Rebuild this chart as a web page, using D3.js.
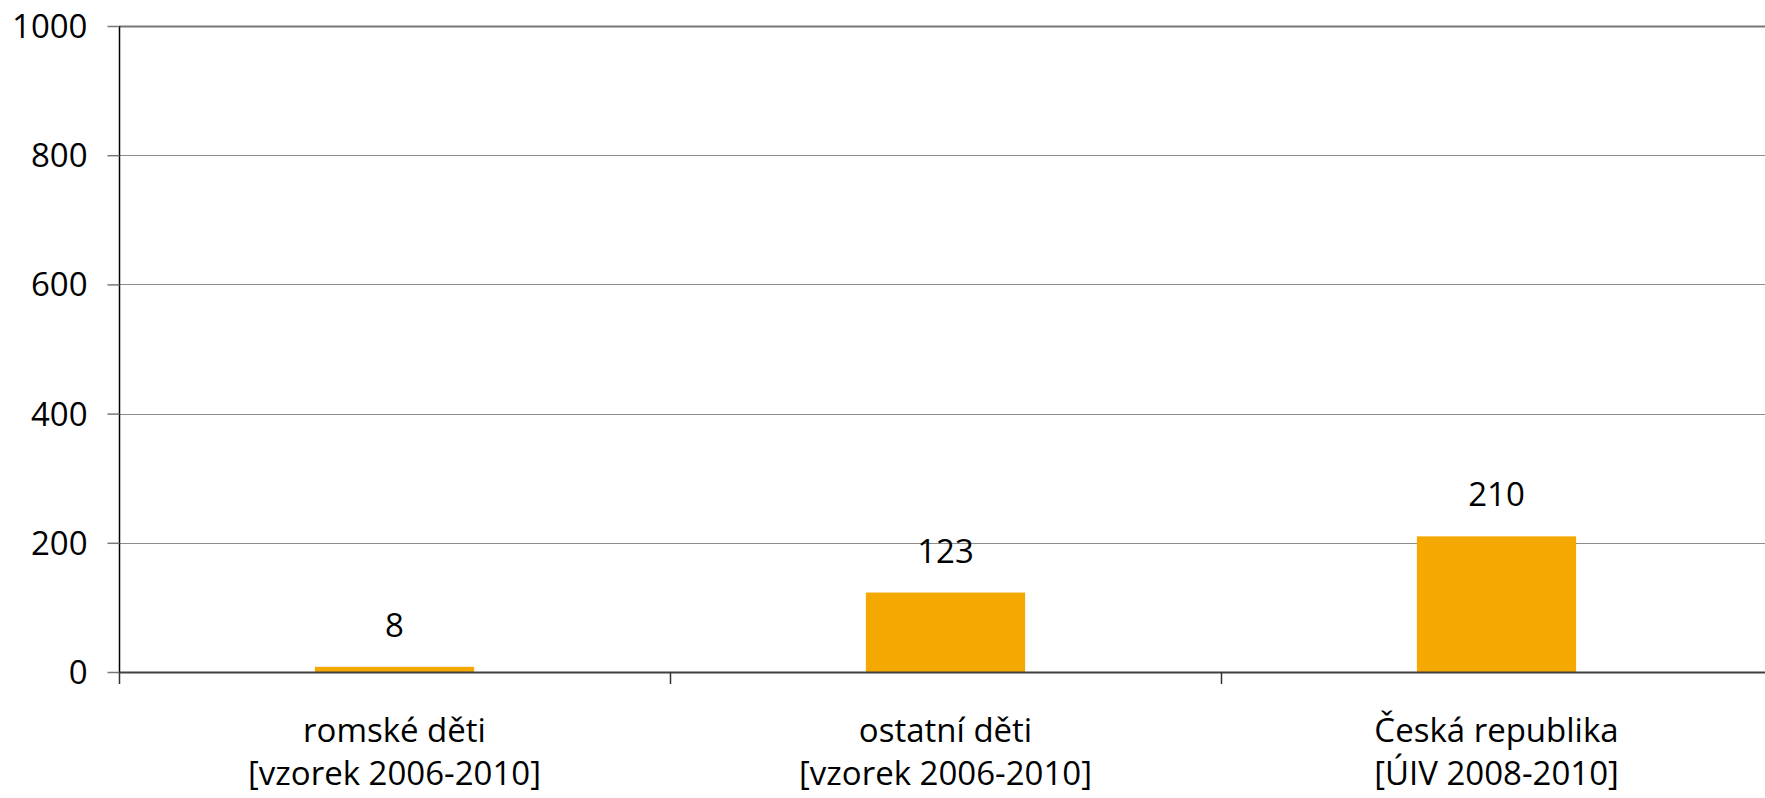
<!DOCTYPE html>
<html>
<head>
<meta charset="utf-8">
<script src="https://cdn.jsdelivr.net/npm/d3@7"></script>
<style>
  html, body { margin: 0; padding: 0; background: #fff; overflow: hidden; }
  text { font-family: "Open Sans", "Noto Sans", sans-serif; fill: #000; }
</style>
</head>
<body>
<svg id="chart" width="1765" height="798"></svg>
<script>
const categories = ["romské děti|[vzorek 2006-2010]", "ostatní děti|[vzorek 2006-2010]", "Česká republika|[ÚIV 2008-2010]"];
const values = [8, 123, 210];
const yTicks = [0, 200, 400, 600, 800, 1000];

const svg = d3.select("#chart");
const mLeft = 119, mRight = 1772, mTop = 26, mBottom = 672;

const x = d3.scaleBand().domain(categories).range([mLeft, mRight]).paddingInner(0).paddingOuter(0);
const y = d3.scaleLinear().domain([0, 1000]).range([mBottom, mTop]);
const barW = x.bandwidth() * 0.289;

// gridlines
svg.append("g").selectAll("line").data(yTicks.filter(d => d > 0)).join("line")
  .attr("x1", mLeft).attr("x2", mRight)
  .attr("y1", d => Math.round(y(d)) + 0.5).attr("y2", d => Math.round(y(d)) + 0.5)
  .attr("stroke", d => d === 1000 ? "#777" : "#8c8c8c").attr("stroke-width", d => d === 1000 ? 2 : 1);

// y axis
const yAxis = d3.axisLeft(y).tickValues(yTicks).tickSize(12).tickPadding(20).tickFormat(d3.format("d"));
const gy = svg.append("g").attr("transform", `translate(${mLeft + 0.5},0)`).call(yAxis);
gy.select(".domain").attr("stroke", "#000").attr("stroke-width", 1.5).attr("d", `M0,${mTop}V${mBottom}`);
gy.selectAll(".tick line").attr("stroke", "#777").attr("stroke-width", 1.5);
gy.selectAll(".tick text").style("font-size", "33px").attr("font-family", null).attr("dy", "0.35em");

// bars
svg.append("g").selectAll("rect").data(values).join("rect")
  .attr("x", (d, i) => x(categories[i]) + (x.bandwidth() - barW) / 2)
  .attr("width", barW)
  .attr("y", d => y(d))
  .attr("height", d => y(0) - y(d))
  .attr("fill", "#f5a800");

// value labels
svg.append("g").selectAll("text").data(values).join("text")
  .attr("x", (d, i) => x(categories[i]) + x.bandwidth() / 2)
  .attr("y", d => y(d) - 30)
  .attr("text-anchor", "middle")
  .style("font-size", "33px")
  .text(d => d);

// x axis
const xAxis = d3.axisBottom(x).tickSize(0).tickFormat("");
const gx = svg.append("g").attr("transform", `translate(0,${mBottom})`).call(xAxis);
gx.select(".domain").attr("stroke", "#404040").attr("stroke-width", 2);
// category boundary ticks
const bounds = [0, 1, 2].map(i => x(categories[i]));
svg.append("g").selectAll("line").data(bounds).join("line")
  .attr("x1", d => Math.round(d) + 0.5).attr("x2", d => Math.round(d) + 0.5)
  .attr("y1", mBottom).attr("y2", mBottom + 12)
  .attr("stroke", "#333").attr("stroke-width", 1.5);

// category labels
const cl = svg.append("g").selectAll("text").data(categories).join("text")
  .attr("text-anchor", "middle")
  .style("font-size", "33px");
cl.each(function(d) {
  const parts = d.split("|");
  const t = d3.select(this);
  const cx = x(d) + x.bandwidth() / 2;
  t.append("tspan").attr("x", cx).attr("y", 742).text(parts[0]);
  t.append("tspan").attr("x", cx).attr("y", 785).text(parts[1]);
});
</script>
</body>
</html>
